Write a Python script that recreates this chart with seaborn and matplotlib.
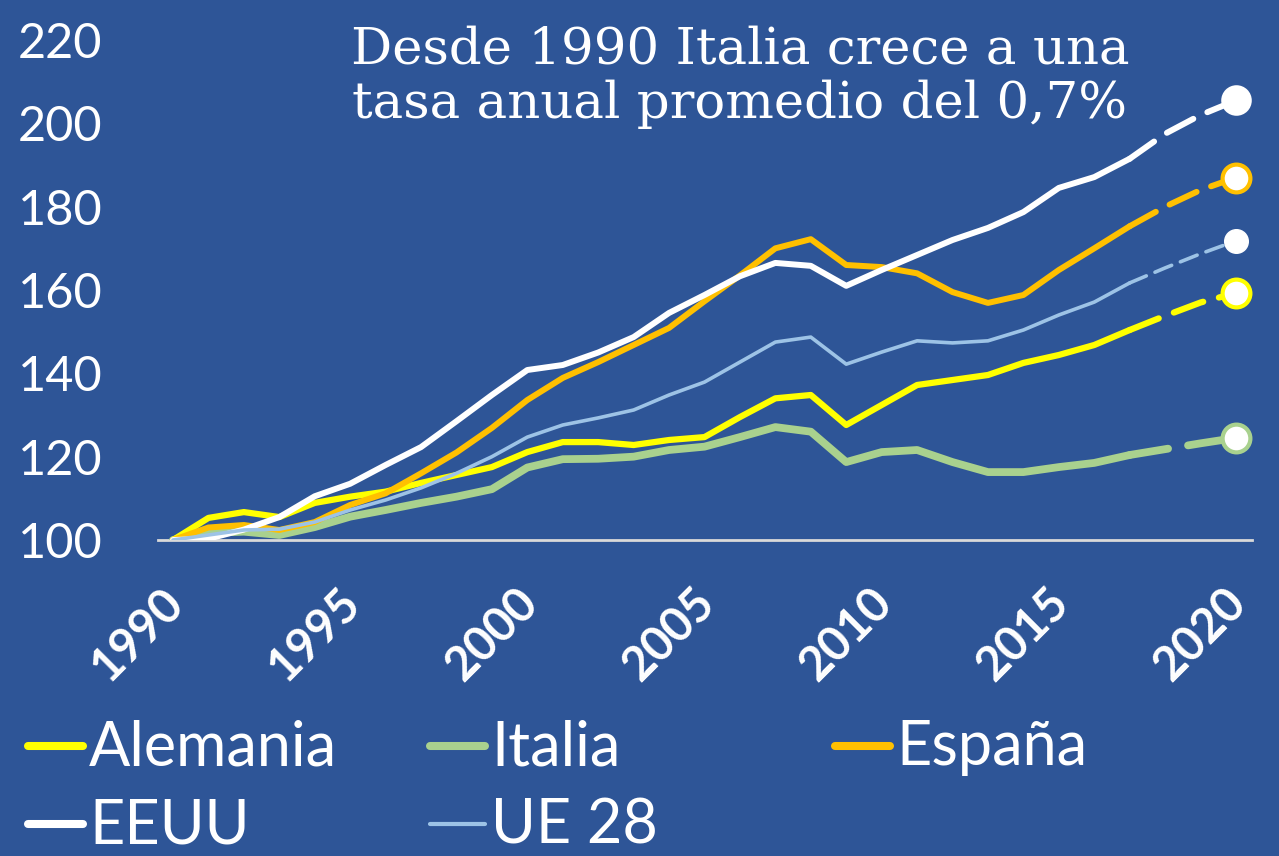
import matplotlib
matplotlib.use("Agg")
import matplotlib.pyplot as plt
import seaborn as sns
import numpy as np
import pandas as pd
from matplotlib.lines import Line2D
from matplotlib.transforms import ScaledTranslation

# ---------------- data ----------------
years = list(range(1990, 2021))
alemania = [100, 105.3, 106.7, 105.5, 108.9, 110.4, 111.6, 113.7, 115.6, 117.5,
            121.1, 123.5, 123.5, 122.8, 124.0, 124.7, 129.5, 134.0, 134.8, 127.6,
            132.4, 137.2, 138.4, 139.6, 142.5, 144.4, 146.8, 150.4, 153.8, 157.0, 159.3]
italia = [100, 101.7, 102.0, 101.2, 103.1, 105.6, 107.2, 108.9, 110.4, 112.2,
          117.4, 119.4, 119.5, 120.0, 121.6, 122.4, 124.7, 127.1, 126.0, 118.7,
          121.1, 121.6, 118.7, 116.3, 116.3, 117.5, 118.5, 120.4, 121.8, 123.2, 124.5]
espana = [100, 103.0, 103.6, 102.4, 104.3, 108.4, 111.2, 116.0, 121.0, 126.9,
          133.6, 138.9, 142.7, 146.8, 150.9, 157.3, 163.5, 170.0, 172.2, 166.0,
          165.5, 164.0, 159.5, 156.9, 158.8, 164.8, 170.0, 175.3, 180.0, 184.0, 187.0]
eeuu = [100, 100.3, 102.5, 105.5, 110.5, 113.5, 118.0, 122.3, 128.5, 134.8,
        140.8, 142.0, 145.0, 148.7, 154.5, 158.8, 163.3, 166.5, 165.8, 161.0,
        164.8, 168.4, 172.0, 174.9, 178.7, 184.5, 187.1, 191.5, 197.5, 202.0, 205.5]
ue28 = [100, 101.2, 102.4, 102.6, 104.3, 107.2, 109.6, 112.5, 116.0, 120.0,
        124.7, 127.6, 129.3, 131.2, 134.8, 137.9, 142.7, 147.5, 148.7, 142.2,
        145.1, 147.8, 147.3, 147.8, 150.4, 154.0, 157.1, 161.7, 165.3, 168.7, 171.8]
last_actual_year = 2017

labels = ["Alemania", "Italia", "España", "EEUU", "UE 28"]
tick_years = [1990, 1995, 2000, 2005, 2010, 2015, 2020]
y_ticks = [100, 120, 140, 160, 180, 200, 220]
title_line1 = "Desde 1990 Italia crece a una"
title_line2 = "tasa anual promedio del 0,7%"

# ---------------- style ----------------
BG = "#2E5597"
colors = {"Alemania": "#FFFF00", "Italia": "#A9D18E", "España": "#FFC000",
          "EEUU": "#FFFFFF", "UE 28": "#9DC3E6"}
widths = {"Alemania": 4.5, "Italia": 5.6, "España": 4.3, "EEUU": 4.3, "UE 28": 2.6}
marker_size = {"Alemania": 20, "Italia": 20, "España": 20, "EEUU": 20, "UE 28": 17}
marker_edge = {"Alemania": 3.0, "Italia": 3.0, "España": 3.0, "EEUU": 2.0, "UE 28": 1.0}
marker_edge_color = {"Alemania": "#FFFF00", "Italia": "#A9D18E", "España": "#FFC000",
                     "EEUU": "#FFFFFF", "UE 28": "#FFFFFF"}

sns.set_theme(style="white")
plt.rcParams["font.family"] = ["Lato", "DejaVu Sans"]

series = {"Alemania": alemania, "Italia": italia, "España": espana,
          "EEUU": eeuu, "UE 28": ue28}
rows = []
for name, vals in series.items():
    for y, v in zip(years, vals):
        rows.append({"pais": name, "year": y, "value": v})
df = pd.DataFrame(rows)

W, H = 1279, 856
fig = plt.figure(figsize=(W / 100, H / 100), dpi=100, facecolor=BG)
ax = fig.add_axes([158 / W, 1 - 540 / H, (1252 - 158) / W, (540 - 40) / H])
ax.set_facecolor(BG)

draw_order = ["Italia", "Alemania", "España", "EEUU", "UE 28"]
for i, name in enumerate(draw_order):
    d = df[df.pais == name]
    solid = d[d.year <= last_actual_year]
    dashed = d[d.year >= last_actual_year]
    sns.lineplot(data=solid, x="year", y="value", color=colors[name],
                 linewidth=widths[name], ax=ax, legend=False, zorder=2 + i)
    ax.lines[-1].set_solid_capstyle("round")
    sns.lineplot(data=dashed, x="year", y="value", color=colors[name],
                 linewidth=widths[name], ax=ax, legend=False, zorder=2 + i)
    ax.lines[-1].set_dashes((5.0, 2.6))
    ax.lines[-1].set_dash_capstyle("round")
    last = d[d.year == d.year.max()]
    ax.plot(last.year, last.value, "o", ms=marker_size[name], mfc="white",
            mec=marker_edge_color[name], mew=marker_edge[name], zorder=20)

ax.set_xlim(1990 - 15 / 35.43, 2020 + 16 / 35.43)
ax.set_ylim(100, 220)
ax.set_xlabel("")
ax.set_ylabel("")
for s in ["top", "right", "left"]:
    ax.spines[s].set_visible(False)
ax.spines["bottom"].set_color("#D9D9D9")
ax.spines["bottom"].set_linewidth(2)
ax.spines["bottom"].set_zorder(1)

ax.set_yticks(y_ticks)
ax.set_yticklabels([str(v) for v in y_ticks])
ax.tick_params(axis="y", length=0, pad=40, labelsize=35, labelcolor="white")
ax.set_xticks(tick_years)
ax.set_xticklabels([str(v) for v in tick_years])
ax.tick_params(axis="x", length=0, pad=40, labelsize=34, labelcolor="white")
off = ScaledTranslation(3 / 100, 0, fig.dpi_scale_trans)
for lab in ax.get_xticklabels():
    lab.set_rotation(45)
    lab.set_ha("right")
    lab.set_va("center")
    lab.set_rotation_mode("anchor")
    lab.set_fontweight("bold")
    lab.set_transform(lab.get_transform() + off)

# ---------------- title ----------------
fig.text(740 / W, 1 - 63 / H, title_line1, ha="center", va="baseline",
         color="white", fontsize=37, family=["DejaVu Serif"])
fig.text(740 / W, 1 - 118 / H, title_line2, ha="center", va="baseline",
         color="white", fontsize=37, family=["DejaVu Serif"])

# ---------------- legend ----------------
leg_pos = {"Alemania": (25, 746), "Italia": (427, 746), "España": (832, 746),
           "EEUU": (25, 824), "UE 28": (427, 824)}
for name in labels:
    x0, yy = leg_pos[name]
    lw = 5.8 if name != "UE 28" else 3.0
    fig.add_artist(Line2D([(x0 + 3) / W, (x0 + 58) / W], [1 - yy / H, 1 - yy / H],
                          transform=fig.transFigure, color=colors[name], lw=lw,
                          solid_capstyle="round"))
    fig.text((x0 + 64) / W, 1 - (yy + 19) / H, name, ha="left", va="baseline",
             color="white", fontsize=44)

fig.savefig("out.png", dpi=100, facecolor=BG)
